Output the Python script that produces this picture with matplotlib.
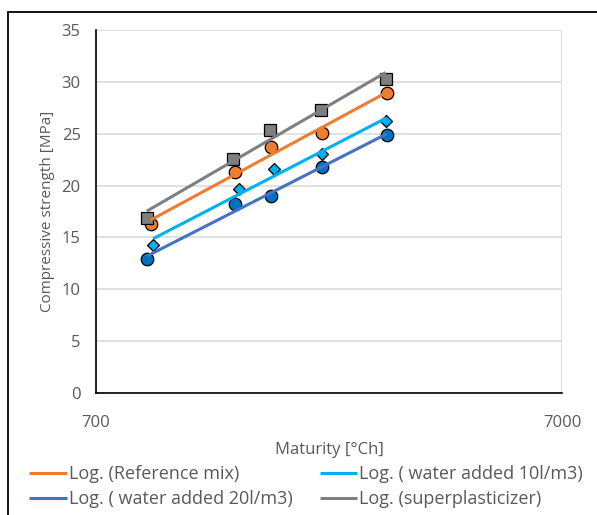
import numpy as np
import matplotlib.pyplot as plt
from matplotlib.patches import Rectangle
from matplotlib.ticker import FixedLocator, NullLocator

# maturity [°Ch] and compressive strength [MPa]
mat_ref = [917, 1390, 1660, 2141, 2944]
str_ref = [16.3, 21.3, 23.7, 25.1, 28.9]

mat_w10 = [929, 1419, 1687, 2141, 2940]
str_w10 = [14.3, 19.7, 21.6, 23.0, 26.2]

mat_w20 = [899, 1390, 1660, 2141, 2944]
str_w20 = [12.9, 18.2, 19.0, 21.8, 24.9]

mat_sp = [899, 1380, 1651, 2128, 2929]
str_sp = [16.9, 22.6, 25.4, 27.3, 30.3]

series = [
    # label, x, y, line colour, marker, marker colour, marker size
    ("Log. (Reference mix)", mat_ref, str_ref, "#ED7D31", "o", "#ED7D31", 9),
    ("Log. ( water added 10l/m3)", mat_w10, str_w10, "#00B0F0", "D", "#00B0F0", 6.5),
    ("Log. ( water added 20l/m3)", mat_w20, str_w20, "#4472C4", "o", "#0070C0", 9),
    ("Log. (superplasticizer)", mat_sp, str_sp, "#7F7F7F", "s", "#7F7F7F", 8),
]

plt.rcParams['font.family'] = ['Open Sans', 'DejaVu Sans']
tick_col = "#595959"

fig = plt.figure(figsize=(5.97, 5.15), dpi=100)
ax = fig.add_axes([96 / 597, 1 - 393 / 515, 466 / 597, 363 / 515])

# markers first, then the log trendlines on top (like Excel)
for label, x, y, lc, mk, mc, ms in series:
    ax.plot(x, y, linestyle="none", marker=mk, markersize=ms,
            markerfacecolor=mc, markeredgecolor="black", markeredgewidth=0.9,
            zorder=3)

handles = []
for label, x, y, lc, mk, mc, ms in series:
    x = np.array(x, dtype=float)
    a, b = np.polyfit(np.log(x), y, 1)
    xs = np.array([x.min(), x.max()])
    h, = ax.plot(xs, a * np.log(xs) + b, color=lc, linewidth=2.2, zorder=4,
                 label=label, solid_capstyle="butt")
    handles.append(h)

ax.set_xscale("log")
ax.set_xlim(700, 7000)
ax.set_ylim(0, 35)
ax.xaxis.set_major_locator(FixedLocator([700, 7000]))
ax.xaxis.set_minor_locator(NullLocator())
ax.set_xticklabels(["700", "7000"])
ax.set_yticks(range(0, 36, 5))

ax.grid(True, which="major", color="#D9D9D9", linewidth=1.1, zorder=0)
ax.set_axisbelow(True)
ax.tick_params(length=0, labelsize=12, colors=tick_col)
ax.tick_params(axis="x", pad=16)
ax.tick_params(axis="y", pad=11)

for side in ["top", "right"]:
    ax.spines[side].set_visible(False)
for side in ["left", "bottom"]:
    ax.spines[side].set_color("black")
    ax.spines[side].set_linewidth(1.2)

ax.set_xlabel("Maturity [°Ch]", fontsize=12, color=tick_col, labelpad=8)
ax.set_ylabel("Compressive strength [MPa]", fontsize=11, color=tick_col, labelpad=5)

# legend: 2 columns under the plot
# order across rows: ref, w10 / w20, sp
leg_order = [handles[0], handles[2], handles[1], handles[3]]
fig.legend(leg_order, [h.get_label() for h in leg_order], ncol=2,
           loc="upper left", bbox_to_anchor=(29 / 597, 1 - 465 / 515),
           frameon=False, fontsize=13, labelcolor=tick_col,
           handlelength=2.1, handletextpad=0.1, columnspacing=1.5,
           labelspacing=0.38, borderaxespad=0, borderpad=0)

# outer chart border (only top and left visible in the crop)
fig.patches.append(Rectangle((8 / 597, -0.05), 1.0, 1 - 12 / 515 + 0.05,
                             transform=fig.transFigure, fill=False,
                             edgecolor="black", linewidth=1.3))

fig.savefig("out.png", dpi=100)
